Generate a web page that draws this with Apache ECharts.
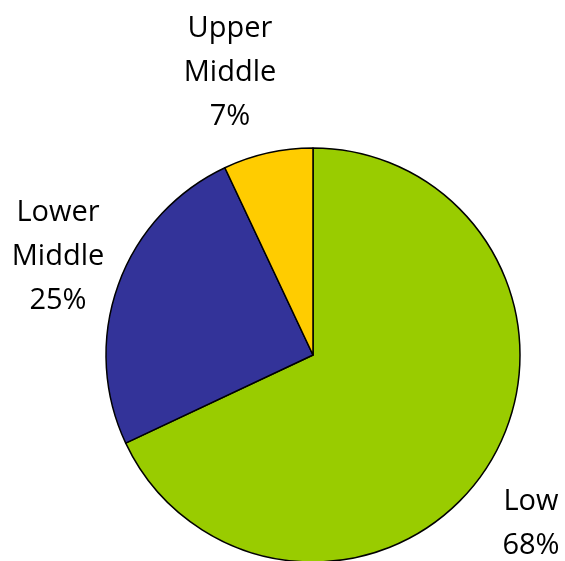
<!DOCTYPE html>
<html><head><meta charset="utf-8">
<script src="https://cdn.jsdelivr.net/npm/echarts@6/dist/echarts.min.js"></script>
<style>html,body{margin:0;padding:0;background:#fff}#c{width:565px;height:561px}</style>
</head><body><div id="c"></div>
<script>
const categories = ['Low', 'Lower\nMiddle', 'Upper\nMiddle'];
const values = [68, 25, 7];
const colors = ['#99CC00', '#333399', '#FFCC00'];
const labelPos = [[531, 524], [58, 257], [230, 73]];

const chart = echarts.init(document.getElementById('c'), null, {renderer: 'canvas'});
chart.setOption({
  animation: false,
  series: [{
    type: 'pie',
    center: [313, 355],
    radius: 207,
    startAngle: 90,
    clockwise: true,
    data: categories.map((n, i) => ({name: n, value: values[i], itemStyle: {color: colors[i]}})),
    itemStyle: {borderColor: '#000', borderWidth: 1.5},
    label: {
      show: true, position: 'outside', overflow: 'none', width: 200,
      formatter: p => p.name + '\n' + p.value + '%',
      fontFamily: 'Open Sans', fontSize: 29, color: '#000', lineHeight: 44, align: 'center'
    },
    labelLine: {show: false},
    labelLayout: p => ({x: labelPos[p.dataIndex][0], y: labelPos[p.dataIndex][1], align: 'center', verticalAlign: 'middle'}),
    emphasis: {disabled: true}
  }]
});
</script></body></html>
